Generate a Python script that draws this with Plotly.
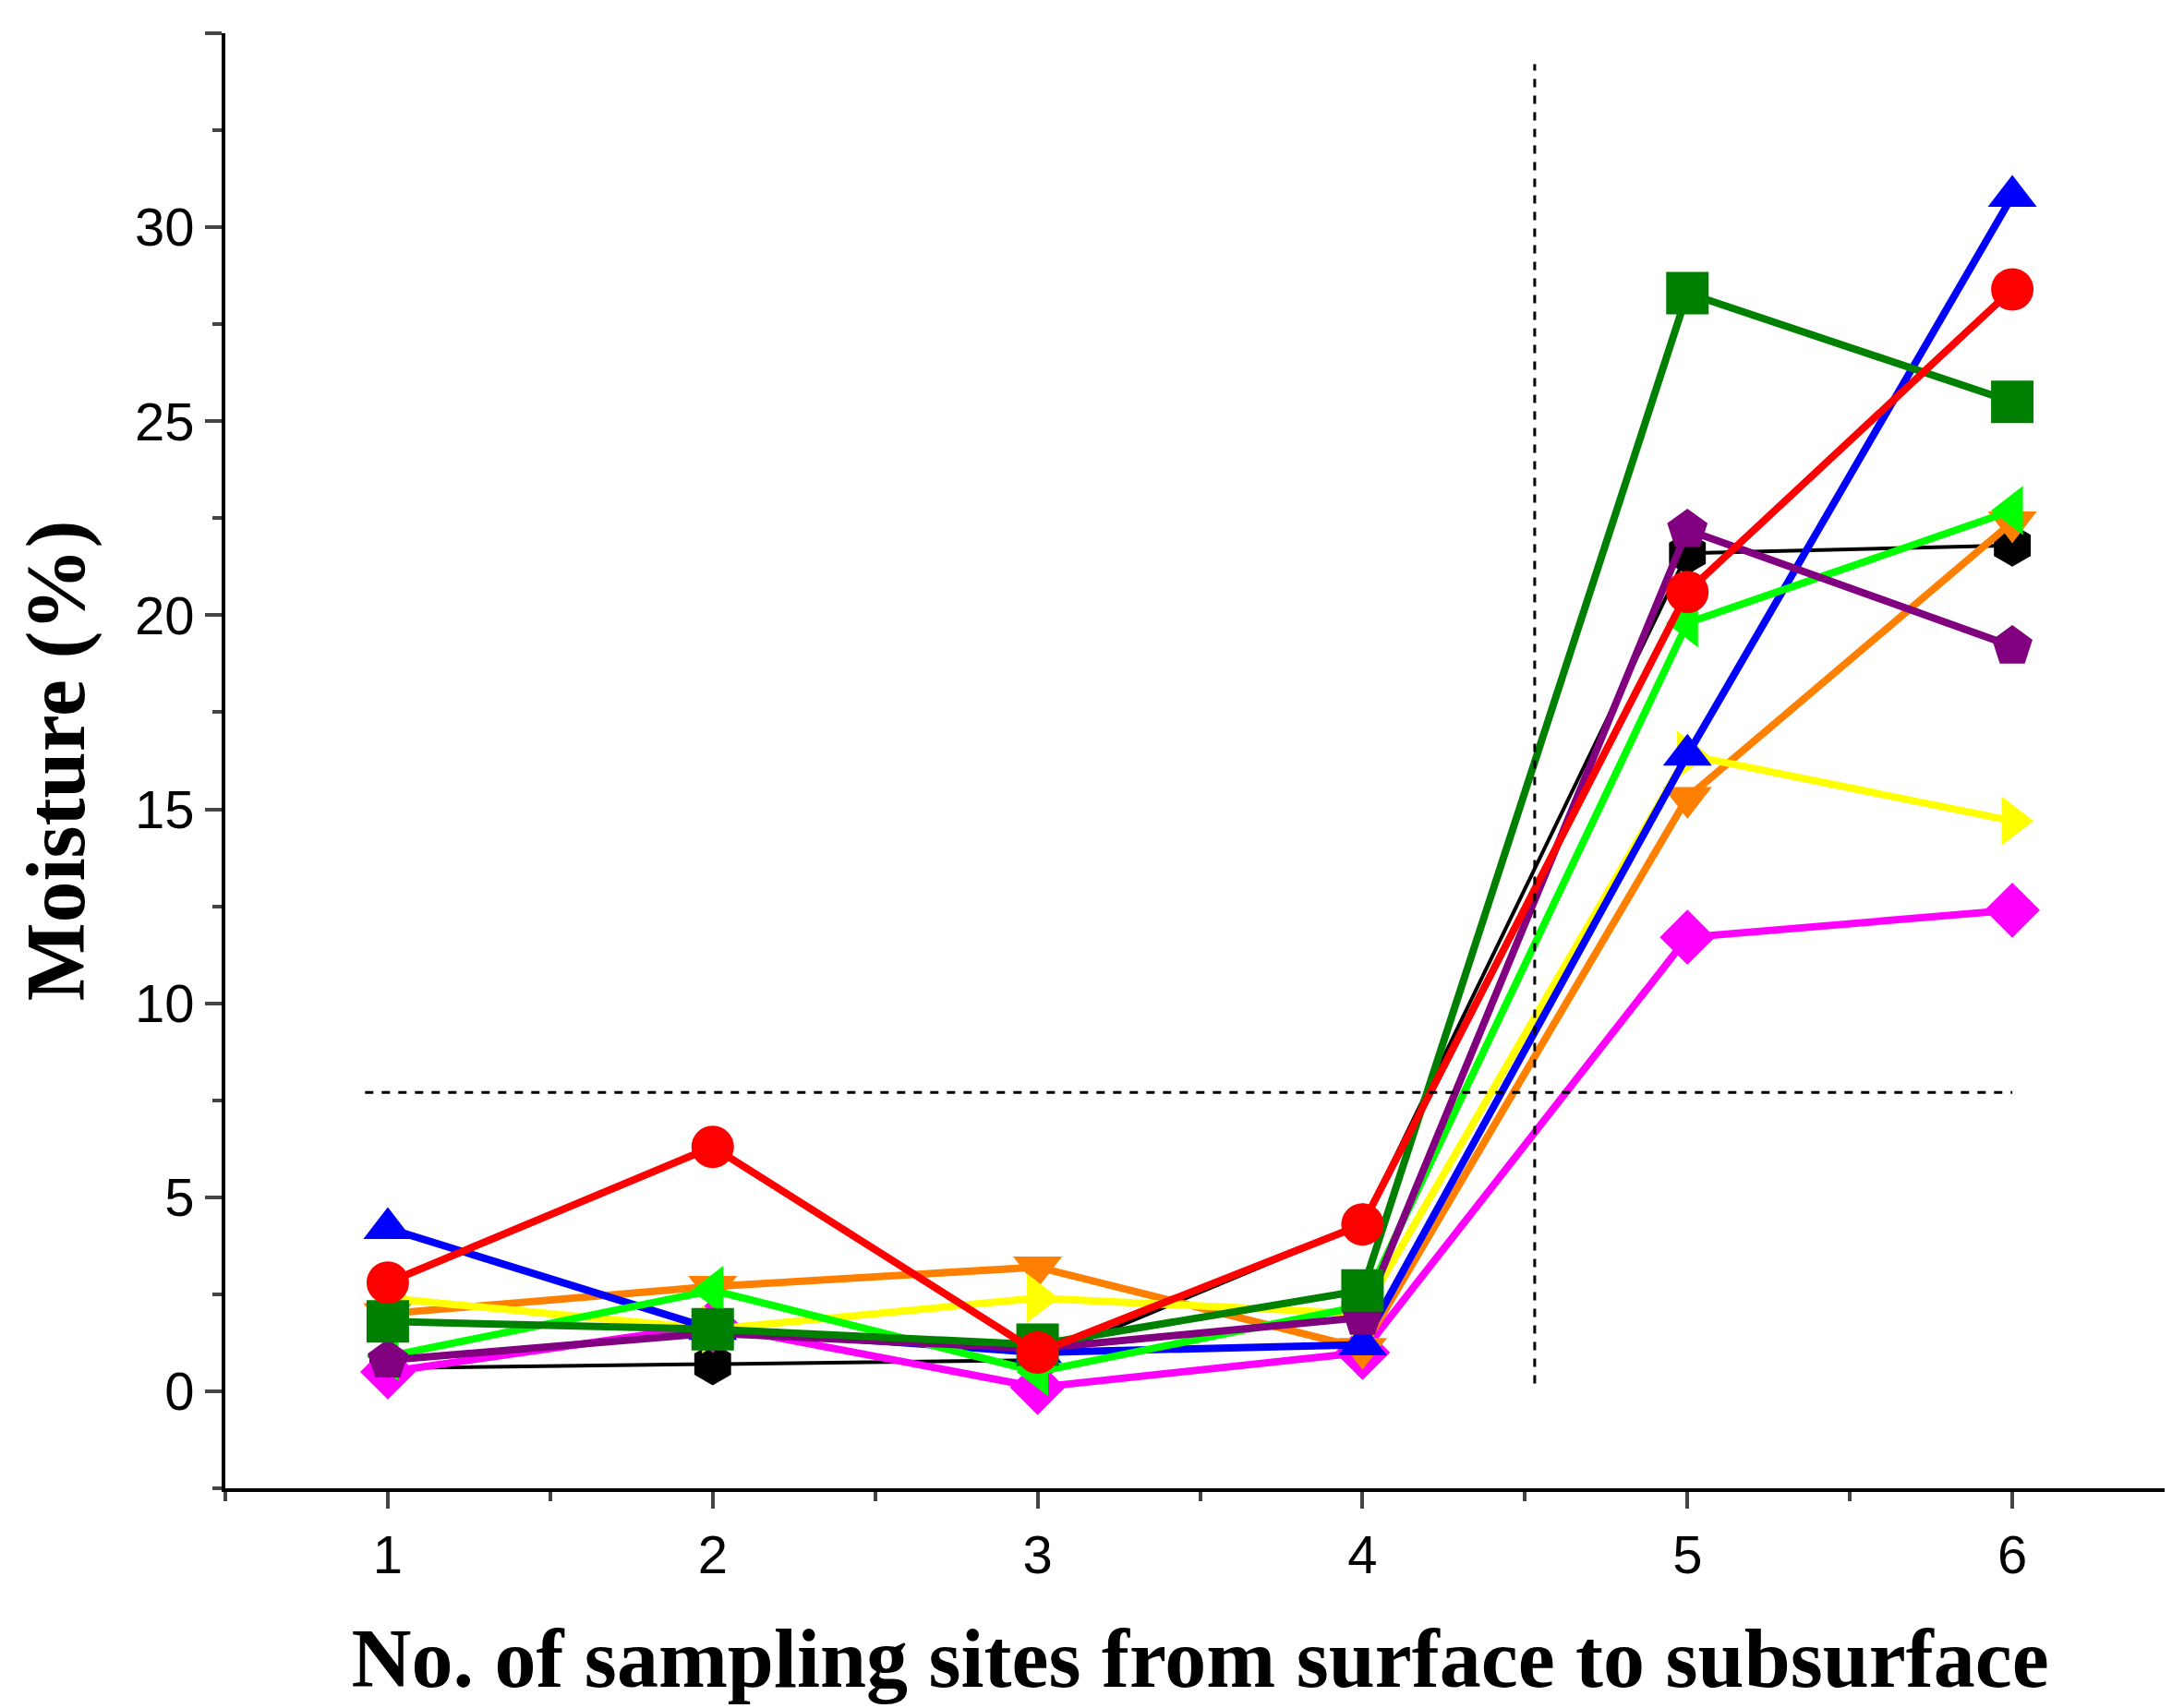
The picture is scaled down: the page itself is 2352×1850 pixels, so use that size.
import plotly.graph_objects as go

sites = [1, 2, 3, 4, 5, 6]

red = [2.8, 6.3, 1.0, 4.3, 20.6, 28.4]
blue = [4.2, 1.6, 1.0, 1.2, 16.4, 30.8]
green = [1.8, 1.6, 1.2, 2.6, 28.3, 25.5]
lime = [0.9, 2.6, 0.5, 2.2, 19.8, 22.7]
orange = [2.0, 2.7, 3.2, 1.1, 15.3, 22.4]
yellow = [2.4, 1.6, 2.4, 2.0, 16.4, 14.7]
magenta = [0.5, 1.7, 0.1, 1.0, 11.7, 12.4]
purple = [0.8, 1.5, 1.1, 1.9, 22.2, 19.2]
black = [0.6, 0.7, 0.8, 4.3, 21.6, 21.8]

# (values, colour, marker, line width)
series = [
    (black, "#000000", "hexagon", 4),
    (magenta, "#ff00ff", "diamond", 8),
    (orange, "#ff8000", "triangle-down", 8),
    (yellow, "#ffff00", "triangle-right", 8),
    (blue, "#0000ff", "triangle-up", 8),
    (lime, "#00ff00", "triangle-left", 8),
    (purple, "#800080", "pentagon", 8),
    (green, "#008000", "square", 8),
    (red, "#ff0000", "circle", 8),
]

fig = go.Figure()
for vals, col, sym, lw in series:
    fig.add_trace(go.Scatter(
        x=sites, y=vals, mode="lines+markers",
        line=dict(color=col, width=lw),
        marker=dict(symbol=sym, size=46, color=col),
        showlegend=False,
    ))

# dashed guide lines
fig.add_shape(type="line", x0=4.53, x1=4.53, y0=0.2, y1=34.2, xref="x", yref="y",
              line=dict(color="black", width=3, dash="dash"))
fig.add_shape(type="line", x0=0.93, x1=6.0, y0=7.7, y1=7.7, xref="x", yref="y",
              line=dict(color="black", width=3, dash="dash"))

axis_font = dict(family="Liberation Sans, Arial", size=58, color="black")
title_font = dict(family="Liberation Serif, Times New Roman", size=90, color="black")

fig.update_layout(
    width=2352, height=1850,
    paper_bgcolor="white", plot_bgcolor="white",
    margin=dict(l=236, r=5, t=28, b=246),
    xaxis=dict(
        range=[0.5, 6.5], tickvals=sites, ticks="outside", ticklen=18, tickwidth=4,
        showline=True, linecolor="black", linewidth=4, showgrid=False, zeroline=False,
        tickfont=axis_font,
        minor=dict(ticks="outside", ticklen=10, tickwidth=4, dtick=0.5, tick0=0.5, showgrid=False),
        title=dict(text="<b>No. of sampling sites from surface to subsurface</b>", font=title_font, standoff=50),
    ),
    yaxis=dict(
        range=[-2.5, 35], tickvals=[0, 5, 10, 15, 20, 25, 30, 35], ticks="outside", ticklen=18, tickwidth=4,
        showline=True, linecolor="black", linewidth=4, showgrid=False, zeroline=False,
        tickfont=axis_font,
        minor=dict(ticks="outside", ticklen=10, tickwidth=4, dtick=2.5, tick0=0, showgrid=False),
        title=dict(text="<b>Moisture (%)</b>", font=title_font, standoff=25),
    ),
)

fig.write_html("out.html")
